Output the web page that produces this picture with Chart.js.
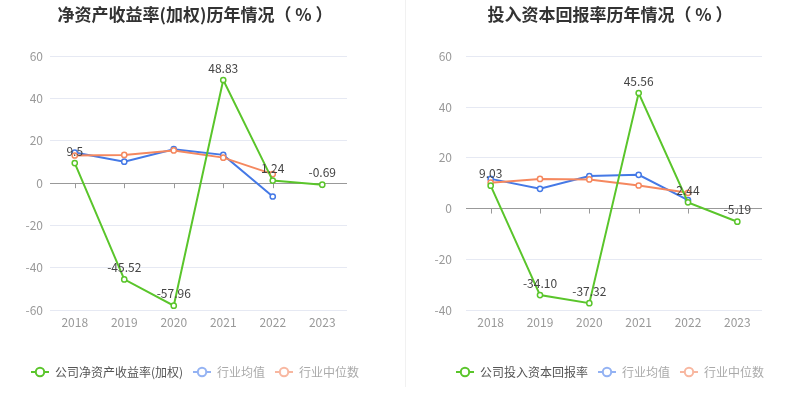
<!DOCTYPE html>
<html><head><meta charset="utf-8">
<script src="https://cdn.jsdelivr.net/npm/chart.js@4.4.0/dist/chart.umd.min.js"></script>
<style>
html,body{margin:0;padding:0;background:#fff;}
body{width:807px;height:415px;position:relative;overflow:hidden;}
#sep{position:absolute;left:405px;top:0;width:1px;height:387px;background:#f1f1f1;}
.box{position:absolute;top:0;}
</style></head><body>
<div id="sep"></div>
<div class="box" style="left:0px"><canvas id="c1" width="390" height="400"></canvas></div>
<div class="box" style="left:413px"><canvas id="c2" width="394" height="400"></canvas></div>
<script>
const years = ['2018','2019','2020','2021','2022','2023'];
// Left chart: ROE (weighted)
const roeCompany = ['9.5','-45.52','-57.96','48.83','1.24','-0.69'];
const roeIndustryAvg = [14.5, 10.2, 16.1, 13.4, -6.3, null];
const roeIndustryMedian = [13.1, 13.4, 15.5, 12.1, 4.3, null];
const roeTicks = [-60, -40, -20, 0, 20, 40, 60];
// Right chart: ROIC
const roicCompany = ['9.03','-34.10','-37.32','45.56','2.44','-5.19'];
const roicIndustryAvg = [11.7, 7.8, 12.8, 13.3, 3.3, null];
const roicIndustryMedian = [10.2, 11.7, 11.5, 9.1, 6.2, null];
const roicTicks = [-40, -20, 0, 20, 40, 60];

const FONT = '"Noto Sans CJK SC", "Noto Sans", sans-serif';
const GREEN = '#5ac52b', BLUE = '#4579e6', ORANGE = '#f5885f';
const LEG = [
  {stroke: GREEN, text: '#555'},
  {stroke: '#93b2f3', text: '#aaa'},
  {stroke: '#f8b7a0', text: '#aaa'}
];

function legendIcon(color) {
  const c = document.createElement('canvas');
  c.width = 18; c.height = 12;
  const g = c.getContext('2d');
  g.strokeStyle = color; g.lineWidth = 2;
  g.beginPath(); g.moveTo(0, 6); g.lineTo(18, 6); g.stroke();
  g.beginPath(); g.arc(9, 6, 4.2, 0, Math.PI * 2);
  g.fillStyle = '#fff'; g.fill(); g.stroke();
  return c;
}
const icons = LEG.map(l => legendIcon(l.stroke));

const labelPlugin = {
  id: 'valLabels',
  afterDatasetsDraw(chart) {
    const ctx = chart.ctx;
    const meta = chart.getDatasetMeta(0);
    const texts = chart.options.plugins.valLabels.texts;
    ctx.save();
    ctx.font = '12px ' + FONT;
    ctx.fillStyle = '#444';
    ctx.textAlign = 'center';
    ctx.textBaseline = 'bottom';
    meta.data.forEach((pt, i) => {
      ctx.fillText(texts[i], pt.x, pt.y - 6);
    });
    ctx.restore();
  }
};
const zeroTickPlugin = {
  id: 'zeroTicks',
  beforeDatasetsDraw(chart) {
    const ctx = chart.ctx;
    const y0 = chart.scales.y.getPixelForValue(0);
    const xs = chart.scales.x;
    ctx.save();
    ctx.strokeStyle = '#999';
    ctx.lineWidth = 1;
    years.forEach((_, i) => {
      const x = Math.round(xs.getPixelForValue(i)) + 0.5;
      ctx.beginPath(); ctx.moveTo(x, y0); ctx.lineTo(x, y0 + 5); ctx.stroke();
    });
    ctx.restore();
  }
};

function makeChart(id, title, names, company, avg, median, ticks, yW, yPad, rW) {
  const ds = (label, data, color, order) => ({
    label, data, borderColor: color, backgroundColor: '#fff', order,
    borderWidth: 2, pointRadius: 2.6, pointBorderWidth: 1.5,
    pointBackgroundColor: '#fff', pointBorderColor: color,
    pointHoverRadius: 2.6, tension: 0, spanGaps: false
  });
  return new Chart(document.getElementById(id), {
    type: 'line',
    data: {
      labels: years,
      datasets: [
        ds(names[0], company.map(Number), GREEN, 0),
        ds(names[1], avg, BLUE, 2),
        ds(names[2], median, ORANGE, 1)
      ]
    },
    plugins: [labelPlugin, zeroTickPlugin],
    options: {
      responsive: false,
      animation: false,
      events: [],
      layout: {padding: {left: 0, right: 0, top: 0, bottom: 12}},
      plugins: {
        valLabels: {texts: company},
        tooltip: {enabled: false},
        title: {
          display: true, text: title, color: '#333',
          font: {family: FONT, size: 17, weight: 'bold'},
          padding: {top: 4, bottom: 32}
        },
        legend: {
          position: 'bottom',
          labels: {
            usePointStyle: true, pointStyleWidth: 18, padding: 10,
            font: {family: FONT, size: 12},
            generateLabels: (chart) => chart.data.datasets.map((d, i) => ({
              text: d.label, pointStyle: icons[i], fontColor: LEG[i].text,
              strokeStyle: LEG[i].stroke, fillStyle: '#fff', lineWidth: 0,
              hidden: false, datasetIndex: i
            }))
          }
        }
      },
      scales: {
        x: {
          offset: true,
          grid: {display: false, drawTicks: false},
          border: {display: false},
          ticks: {color: '#999', font: {family: FONT, size: 12}, padding: 5},
          afterFit: (s) => { s.height = 46; }
        },
        y: {
          min: ticks[0], max: ticks[ticks.length - 1],
          afterBuildTicks: (s) => { s.ticks = ticks.map(v => ({value: v})); },
          grid: {
            drawTicks: false,
            color: (c) => c.tick && c.tick.value === 0 ? '#999' : '#e6e9f3',
            lineWidth: 1
          },
          border: {display: false},
          ticks: {color: '#999', font: {family: FONT, size: 12}, padding: yPad},
          afterFit: (s) => { s.width = yW; }
        },
        r: {
          position: 'right', display: true,
          grid: {display: false, drawTicks: false}, border: {display: false},
          ticks: {display: false},
          afterFit: (s) => { s.width = rW; }
        }
      }
    }
  });
}

makeChart('c1', '净资产收益率(加权)历年情况（ % ）',
  ['公司净资产收益率(加权)', '行业均值', '行业中位数'],
  roeCompany, roeIndustryAvg, roeIndustryMedian, roeTicks, 50, 7, 43);
makeChart('c2', '投入资本回报率历年情况（ % ）',
  ['公司投入资本回报率', '行业均值', '行业中位数'],
  roicCompany, roicIndustryAvg, roicIndustryMedian, roicTicks, 53, 14, 45);
</script>
</body></html>
